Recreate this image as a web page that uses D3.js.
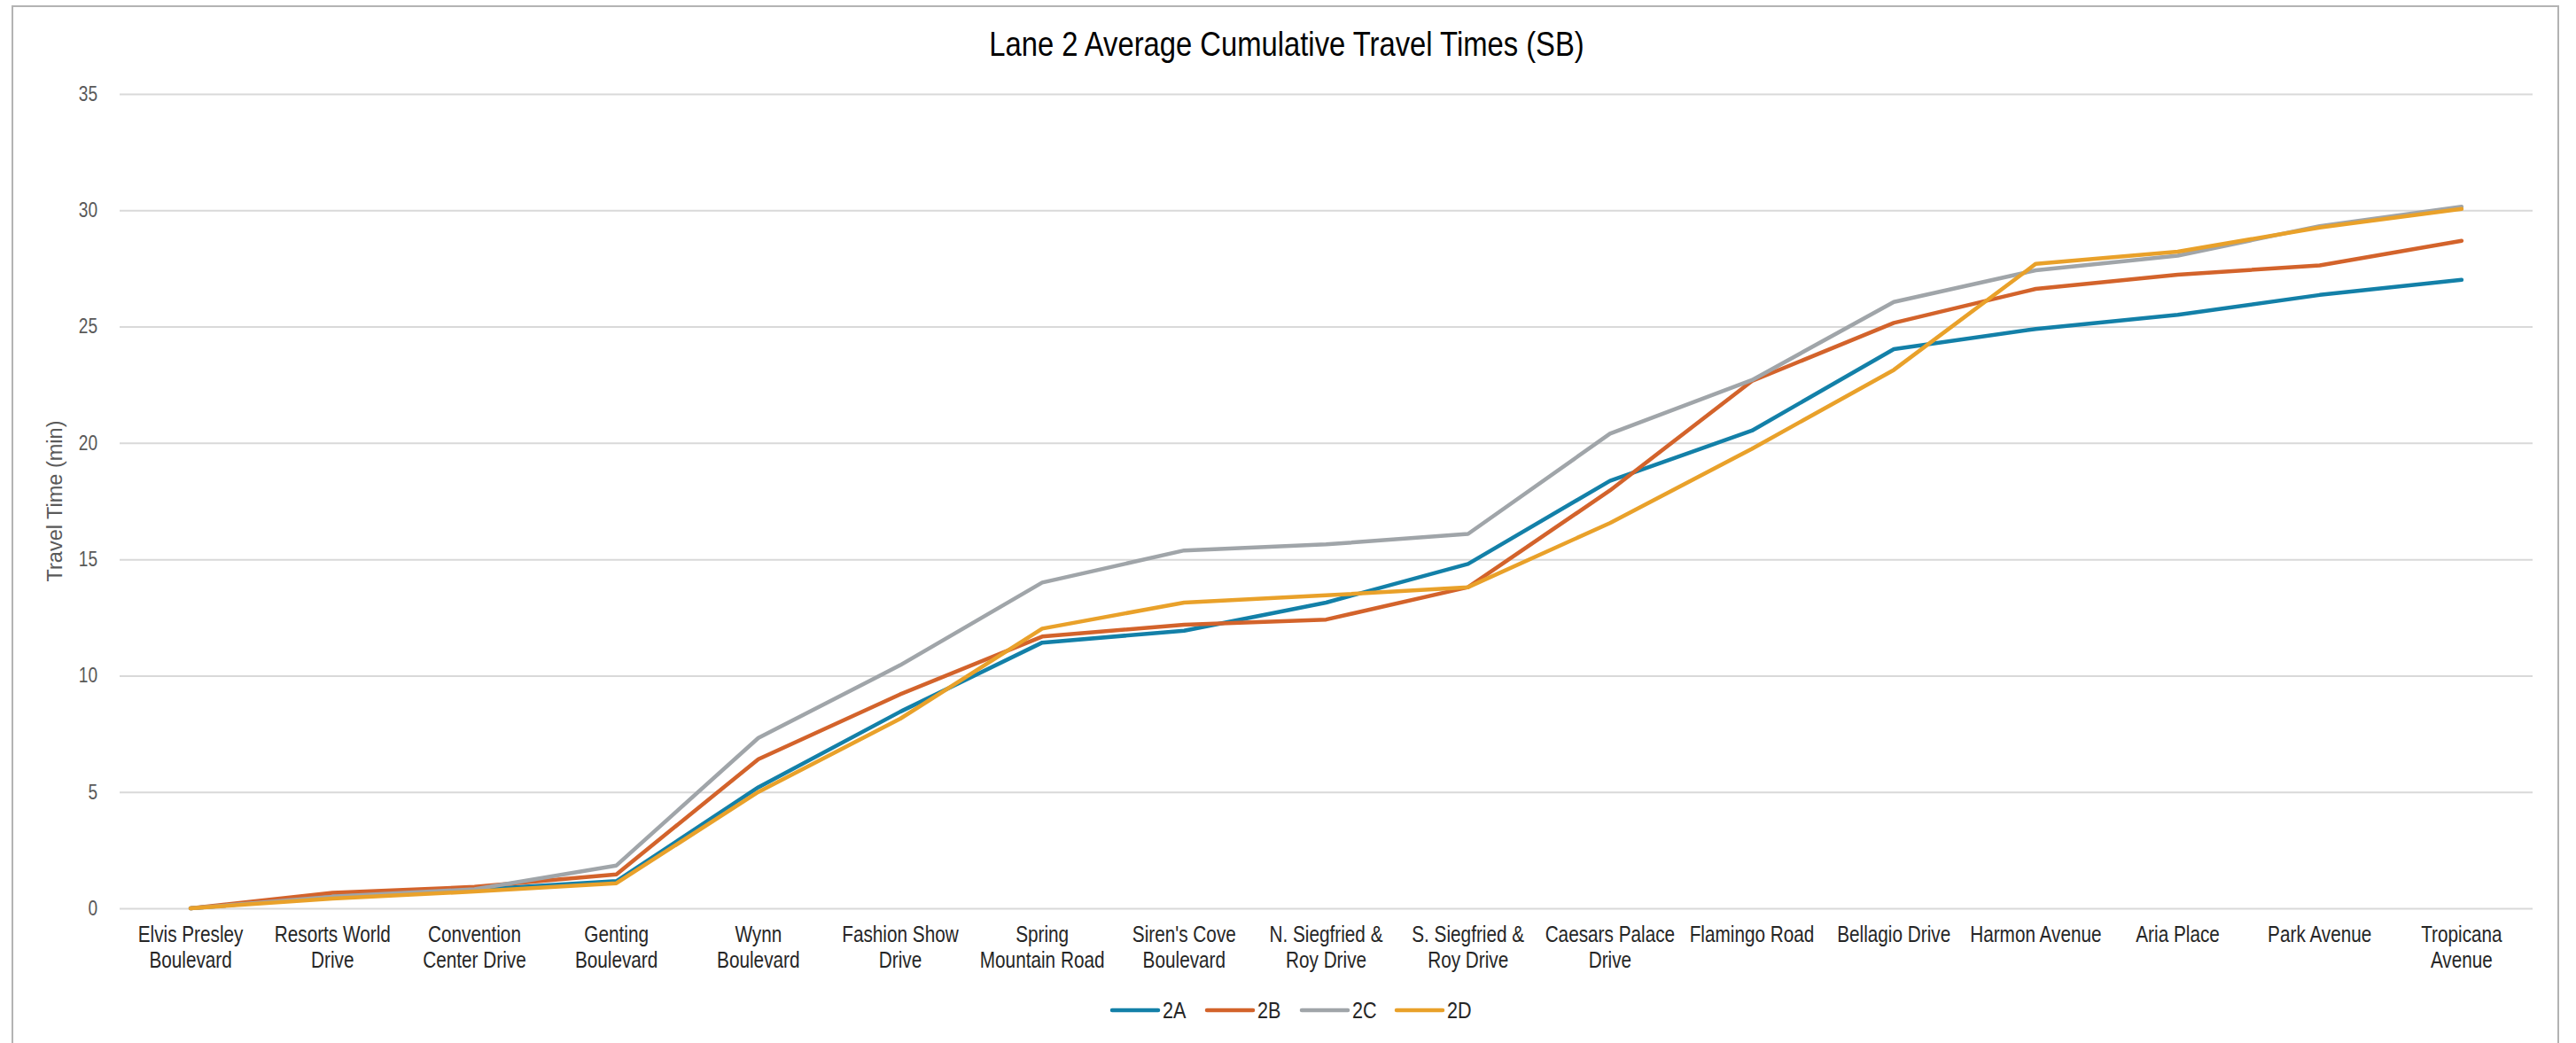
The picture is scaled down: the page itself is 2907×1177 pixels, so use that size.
<!DOCTYPE html>
<html>
<head>
<meta charset="utf-8">
<script src="https://cdn.jsdelivr.net/npm/d3@7"></script>
<style>
  html, body { margin: 0; padding: 0; background: #fff; }
  svg { display: block; }
</style>
</head>
<body>
<svg id="chart" width="2907" height="1177"></svg>
<script>
const chartTitle = "Lane 2 Average Cumulative Travel Times (SB)";
const yAxisTitle = "Travel Time (min)";

const categories = [
  "Elvis Presley Boulevard", "Resorts World Drive", "Convention Center Drive",
  "Genting Boulevard", "Wynn Boulevard", "Fashion Show Drive",
  "Spring Mountain Road", "Siren's Cove Boulevard", "N. Siegfried & Roy Drive",
  "S. Siegfried & Roy Drive", "Caesars Palace Drive", "Flamingo Road",
  "Bellagio Drive", "Harmon Avenue", "Aria Place", "Park Avenue", "Tropicana Avenue"
];
const categoryLabelLines = [
  ["Elvis Presley", "Boulevard"], ["Resorts World", "Drive"], ["Convention", "Center Drive"],
  ["Genting", "Boulevard"], ["Wynn", "Boulevard"], ["Fashion Show", "Drive"],
  ["Spring", "Mountain Road"], ["Siren's Cove", "Boulevard"], ["N. Siegfried &", "Roy Drive"],
  ["S. Siegfried &", "Roy Drive"], ["Caesars Palace", "Drive"], ["Flamingo Road"],
  ["Bellagio Drive"], ["Harmon Avenue"], ["Aria Place"], ["Park Avenue"], ["Tropicana", "Avenue"]
];

const seriesNames = ["2A", "2B", "2C", "2D"];
const seriesColors = ["#1380A8", "#D3632B", "#A0A5A9", "#E9A12A"];

const values2A = [0, 0.50, 0.80, 1.17, 5.20, 8.45, 11.42, 11.93, 13.14, 14.80, 18.37, 20.53, 24.03, 24.90, 25.51, 26.36, 27.01];
const values2B = [0, 0.67, 0.92, 1.46, 6.41, 9.20, 11.68, 12.19, 12.41, 13.80, 17.96, 22.66, 25.16, 26.62, 27.23, 27.63, 28.69];
const values2C = [0, 0.50, 0.82, 1.84, 7.32, 10.45, 14.00, 15.38, 15.64, 16.09, 20.40, 22.70, 26.06, 27.42, 28.05, 29.32, 30.15];
const values2D = [0, 0.42, 0.72, 1.08, 5.00, 8.15, 12.02, 13.14, 13.45, 13.80, 16.56, 19.75, 23.14, 27.70, 28.22, 29.26, 30.06];

const yTicks = [0, 5, 10, 15, 20, 25, 30, 35];

const seriesValues = [values2A, values2B, values2C, values2D];

const plot = { left: 135, right: 2858, top: 106, bottom: 1025 };
const sans = "'Liberation Sans', Arial, sans-serif";
const squeeze = 0.83; // condensed look of the original typeface

const svg = d3.select("#chart");

// chart border
svg.append("rect")
  .attr("x", 14).attr("y", 7).attr("width", 2873).attr("height", 1200)
  .attr("fill", "#fff").attr("stroke", "#B3B3B3").attr("stroke-width", 2);

const x = d3.scaleBand().domain(categories).range([plot.left, plot.right]).padding(0);
const y = d3.scaleLinear().domain([0, 35]).range([plot.bottom, plot.top]);

// gridlines + y tick labels
const yPad = 25;
const yAxis = d3.axisLeft(y).tickValues(yTicks).tickSize(-(plot.right - plot.left)).tickPadding(yPad);
const gY = svg.append("g").attr("transform", `translate(${plot.left},0)`).call(yAxis);
gY.select(".domain").remove();
gY.selectAll(".tick line").attr("stroke", "#D9D9D9").attr("stroke-width", 2);
gY.selectAll(".tick text")
  .attr("x", -yPad / squeeze)
  .attr("transform", `scale(${squeeze},1)`)
  .attr("fill", "#595959")
  .style("font-family", sans)
  .style("font-size", "23px");

// x axis labels
const xAxis = d3.axisBottom(x).tickSize(0).tickFormat(() => "");
const gX = svg.append("g").attr("transform", `translate(0,${plot.bottom})`).call(xAxis);
gX.select(".domain").remove();
gX.selectAll(".tick").each(function(d, i) {
  const t = d3.select(this).append("text")
    .attr("text-anchor", "middle")
    .attr("transform", `scale(${squeeze},1)`)
    .attr("fill", "#262626")
    .style("font-family", sans)
    .style("font-size", "25px");
  categoryLabelLines[i].forEach((line, j) => {
    t.append("tspan").attr("x", 0).attr("y", 38 + j * 29).text(line);
  });
});

// lines
const line = d3.line()
  .x((d, i) => x(categories[i]) + x.bandwidth() / 2)
  .y(d => y(d));

seriesValues.forEach((vals, k) => {
  svg.append("path")
    .datum(vals)
    .attr("fill", "none")
    .attr("stroke", seriesColors[k])
    .attr("stroke-width", 4.5)
    .attr("stroke-linejoin", "round")
    .attr("stroke-linecap", "round")
    .attr("d", line);
});

// title
svg.append("g").attr("transform", "translate(1452,63)")
  .append("text")
  .attr("transform", `scale(${squeeze},1)`)
  .attr("text-anchor", "middle")
  .attr("fill", "#000")
  .style("font-family", sans)
  .style("font-size", "39.5px")
  .text(chartTitle);

// y axis title
svg.append("text")
  .attr("transform", `translate(70,${(plot.top + plot.bottom) / 2}) rotate(-90)`)
  .attr("text-anchor", "middle")
  .attr("fill", "#595959")
  .style("font-family", sans)
  .style("font-size", "23.5px")
  .text(yAxisTitle);

// legend
const legendX = 1253, legendY = 1140, itemStep = 107;
const leg = svg.append("g");
seriesNames.forEach((name, k) => {
  const g = leg.append("g").attr("transform", `translate(${legendX + k * itemStep},${legendY})`);
  g.append("line").attr("x1", 2).attr("x2", 54).attr("y1", 0).attr("y2", 0)
    .attr("stroke", seriesColors[k]).attr("stroke-width", 4.5).attr("stroke-linecap", "round");
  g.append("g").attr("transform", "translate(59,9)")
    .append("text")
    .attr("transform", `scale(${squeeze},1)`)
    .attr("fill", "#262626")
    .style("font-family", sans)
    .style("font-size", "26px")
    .text(name);
});
</script>
</body>
</html>
